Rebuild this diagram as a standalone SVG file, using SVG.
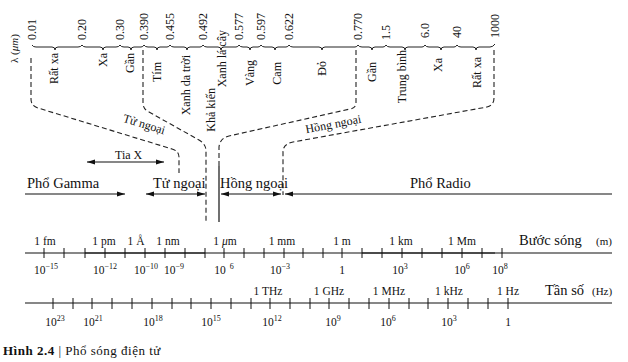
<svg xmlns="http://www.w3.org/2000/svg" width="628" height="362" viewBox="0 0 628 362">
<style>
text{font-family:"Liberation Serif","Times New Roman",serif;fill:#111}
.v{font-size:12px}
.b{font-size:12px;text-anchor:end}
.row{font-size:14.5px}
.ax{font-size:11.5px;text-anchor:middle}
.big{font-size:14.5px}
.sm{font-size:11px}
.dash{fill:none;stroke:#222;stroke-width:1.1;stroke-dasharray:5 3}
.ln{stroke:#111;stroke-width:1.2;fill:none}
.tk{stroke:#111;stroke-width:1}
.brace{fill:none;stroke:#222;stroke-width:1}
</style>
<defs>
<marker id="ah" viewBox="0 0 8 6" refX="8" refY="3" markerWidth="8" markerHeight="6" markerUnits="userSpaceOnUse" orient="auto-start-reverse"><path d="M0,0.5 L8,3 L0,5.5 z" fill="#111"/></marker>
</defs>

<g id="lambda-axis">
<text class="sm" transform="translate(18,63) rotate(-90)">λ (<tspan font-style="italic">μm</tspan>)</text>
<path class="brace" d="M32,45 Q33,47 36,47 L52,47 Q55,47 55,50 Q55,47 58,47 L78,47 Q81,47 82,45 Q83,47 86,47 L100,47 Q103,47 103,50 Q103,47 106,47 L116,47 Q119,47 120,45 Q121,47 124,47 L128,47 Q131,47 131,50 Q131,47 134,47 L141,47 Q143,47 144,45 Q145,47 148,47 L154,47 Q157,47 157,50 Q157,47 160,47 L167,47 Q169,47 170,45 Q171,47 174,47 L184,47 Q187,47 187,50 Q187,47 190,47 L200,47 Q202,47 203,45 Q204,47 207,47 L218,47 Q221,47 221,50 Q221,47 224,47 L236,47 Q238,47 239,45 Q240,47 243,47 L247,47 Q250,47 250,50 Q250,47 253,47 L258,47 Q260,47 261,45 Q262,47 265,47 L272,47 Q275,47 275,50 Q275,47 278,47 L286,47 Q288,47 289,45 Q290,47 293,47 L319,47 Q322,47 322,50 Q322,47 325,47 L355,47 Q357,47 358,45 Q359,47 362,47 L369,47 Q372,47 372,50 Q372,47 375,47 L383,47 Q385,47 386,45 Q387,47 390,47 L402,47 Q405,47 405,50 Q405,47 408,47 L422,47 Q424,47 425,45 Q426,47 429,47 L438,47 Q441,47 441,50 Q441,47 444,47 L454,47 Q456,47 457,45 Q458,47 461,47 L473,47 Q476,47 476,50 Q476,47 479,47 L490,47 Q493,47 495,44"/>
<text class="v" transform="translate(36,40) rotate(-90)">0.01</text>
<text class="v" transform="translate(86,40) rotate(-90)">0.20</text>
<text class="v" transform="translate(124,40) rotate(-90)">0.30</text>
<text class="v" transform="translate(148,40) rotate(-90)">0.390</text>
<text class="v" transform="translate(174,40) rotate(-90)">0.455</text>
<text class="v" transform="translate(207,40) rotate(-90)">0.492</text>
<text class="v" transform="translate(243,40) rotate(-90)">0.577</text>
<text class="v" transform="translate(265,40) rotate(-90)">0.597</text>
<text class="v" transform="translate(293,40) rotate(-90)">0.622</text>
<text class="v" transform="translate(362,40) rotate(-90)">0.770</text>
<text class="v" transform="translate(390,40) rotate(-90)">1.5</text>
<text class="v" transform="translate(429,38) rotate(-90)">6.0</text>
<text class="v" transform="translate(461,38) rotate(-90)">40</text>
<text class="v" transform="translate(499,38) rotate(-90)">1000</text>
</g>

<g id="bands">
<text class="b" transform="translate(58,53) rotate(-90)">Rất xa</text>
<text class="b" transform="translate(107,53) rotate(-90)">Xa</text>
<text class="b" transform="translate(134,53) rotate(-90)">Gần</text>
<text class="b" transform="translate(161,62) rotate(-90)">Tím</text>
<text class="b" transform="translate(190,55) rotate(-90)">Xanh da trời</text>
<text class="b" transform="translate(215,88) rotate(-90)">Khả kiến</text>
<text class="b" transform="translate(226,30) rotate(-90)">Xanh lá cây</text>
<text class="b" transform="translate(254,60) rotate(-90)">Vàng</text>
<text class="b" transform="translate(281,62) rotate(-90)">Cam</text>
<text class="b" transform="translate(326,61) rotate(-90)">Đỏ</text>
<text class="b" transform="translate(376,62) rotate(-90)">Gần</text>
<text class="b" transform="translate(406,50) rotate(-90)">Trung bình</text>
<text class="b" transform="translate(442,58) rotate(-90)">Xa</text>
<text class="b" transform="translate(481,57) rotate(-90)">Rất xa</text>
<text class="v" text-anchor="middle" transform="translate(143,128) rotate(17)">Tử ngoại</text>
<text class="v" text-anchor="middle" transform="translate(334,128) rotate(-11)">Hồng ngoại</text>
</g>

<g id="connectors">
<path class="dash" d="M31,58 L31,99 Q31,106 38,108 L172,149 Q179,151 179,157 L179,173"/>
<path class="dash" d="M143,50 L143,103 Q143,109 149,112 L199,140 Q206,144 206,151 L206,222"/>
<path class="dash" d="M356,50 L356,103 Q356,108 350,109 L229,136 Q220,138 219,147 L219,166"/>
<path class="ln" d="M219,166 L219,222"/>
<path class="dash" d="M494,50 L494,98 Q494,105 487,107 L293,142 Q283,144 283,152 L283,195"/>
<path class="ln" d="M87,162 L164,162" marker-start="url(#ah)" marker-end="url(#ah)"/>
<path class="ln" d="M25,194 L125,194" marker-end="url(#ah)"/>
<path class="ln" d="M146,194 L205,194" marker-start="url(#ah)" marker-end="url(#ah)"/>
<path class="ln" d="M221,194 L281,194" marker-start="url(#ah)" marker-end="url(#ah)"/>
<path class="ln" d="M285,194 L612,194" marker-start="url(#ah)"/>
</g>

<g id="spectrum">
<text class="v" x="115" y="159" font-size="13">Tia X</text>
<text class="row" x="27" y="188">Phổ Gamma</text>
<text class="row" x="153" y="188">Tử ngoại</text>
<text class="row" x="220" y="188">Hồng ngoại</text>
<text class="row" x="410" y="188">Phổ Radio</text>
</g>

<g id="wavelength">
<path class="ln" d="M25,253 L612,253" stroke-width="1"/>
<path class="ln" d="M85,253 L205,253 M362,253 L495,253" stroke-width="2"/>
<path class="tk" d="M44,248v10M64,248v10M85,248v10M105,248v10M125,248v10M145,248v10M165,248v10M185,248v10M205,248v10M224,248v10M244,248v10M264,248v10M284,248v10M303,248v10M323,248v10M342,248v10M362,248v10M382,248v10M402,248v10M422,248v10M442,248v10M462,248v10M482,248v10M502,248v10"/>
<text class="ax" x="45" y="245">1 fm</text>
<text class="ax" x="104" y="245">1 pm</text>
<text class="ax" x="136" y="245">1 Å</text>
<text class="ax" x="168" y="245">1 nm</text>
<text class="ax" x="225" y="245">1 <tspan font-style="italic">μ</tspan>m</text>
<text class="ax" x="282" y="245">1 mm</text>
<text class="ax" x="342" y="245">1 m</text>
<text class="ax" x="401" y="245">1 km</text>
<text class="ax" x="462" y="245">1 Mm</text>
<text class="big" x="519" y="245">Bước sóng</text>
<text class="sm" x="596" y="245">(m)</text>
<text class="ax" x="46" y="274">10<tspan dy="-5" font-size="8">−15</tspan></text>
<text class="ax" x="105" y="274">10<tspan dy="-5" font-size="8">−12</tspan></text>
<text class="ax" x="146" y="274">10<tspan dy="-5" font-size="8">−10</tspan></text>
<text class="ax" x="174" y="274">10<tspan dy="-5" font-size="8">−9</tspan></text>
<text class="ax" x="224" y="274">10<tspan dy="-5" font-size="8" dx="4">6</tspan></text>
<text class="ax" x="280" y="274">10<tspan dy="-5" font-size="8">−3</tspan></text>
<text class="ax" x="342" y="274">1</text>
<text class="ax" x="400" y="274">10<tspan dy="-5" font-size="8">3</tspan></text>
<text class="ax" x="462" y="274">10<tspan dy="-5" font-size="8">6</tspan></text>
<text class="ax" x="500" y="274">10<tspan dy="-5" font-size="8">8</tspan></text>
</g>

<g id="frequency">
<path class="ln" d="M25,303 L612,303" stroke-width="1.4"/>
<path class="tk" d="M53,298v11M73,298v11M92,298v11M112,298v11M132,298v11M152,298v11M172,298v11M191,298v11M211,298v11M231,298v11M251,298v11M270,298v11M290,298v11M310,298v11M329,298v11M349,298v11M369,298v11M389,298v11M409,298v11M428,298v11M448,298v11M468,298v11M488,298v11M508,298v11"/>
<text class="ax" x="268" y="295">1 THz</text>
<text class="ax" x="329" y="295">1 GHz</text>
<text class="ax" x="389" y="295">1 MHz</text>
<text class="ax" x="449" y="295">1 kHz</text>
<text class="ax" x="508" y="295">1 Hz</text>
<text class="big" x="545" y="295">Tần số</text>
<text class="sm" x="592" y="295">(Hz)</text>
<text class="ax" x="55" y="326">10<tspan dy="-5" font-size="8">23</tspan></text>
<text class="ax" x="93" y="326">10<tspan dy="-5" font-size="8">21</tspan></text>
<text class="ax" x="153" y="326">10<tspan dy="-5" font-size="8">18</tspan></text>
<text class="ax" x="211" y="326">10<tspan dy="-5" font-size="8">15</tspan></text>
<text class="ax" x="272" y="326">10<tspan dy="-5" font-size="8">12</tspan></text>
<text class="ax" x="333" y="326">10<tspan dy="-5" font-size="8">9</tspan></text>
<text class="ax" x="388" y="326">10<tspan dy="-5" font-size="8">6</tspan></text>
<text class="ax" x="449" y="326">10<tspan dy="-5" font-size="8">3</tspan></text>
<text class="ax" x="508" y="326">1</text>
</g>

<g id="caption">
<text x="3" y="355" font-size="13" letter-spacing="0.5"><tspan font-weight="bold">Hình 2.4</tspan> | Phổ sóng điện tử</text>
</g>
</svg>
